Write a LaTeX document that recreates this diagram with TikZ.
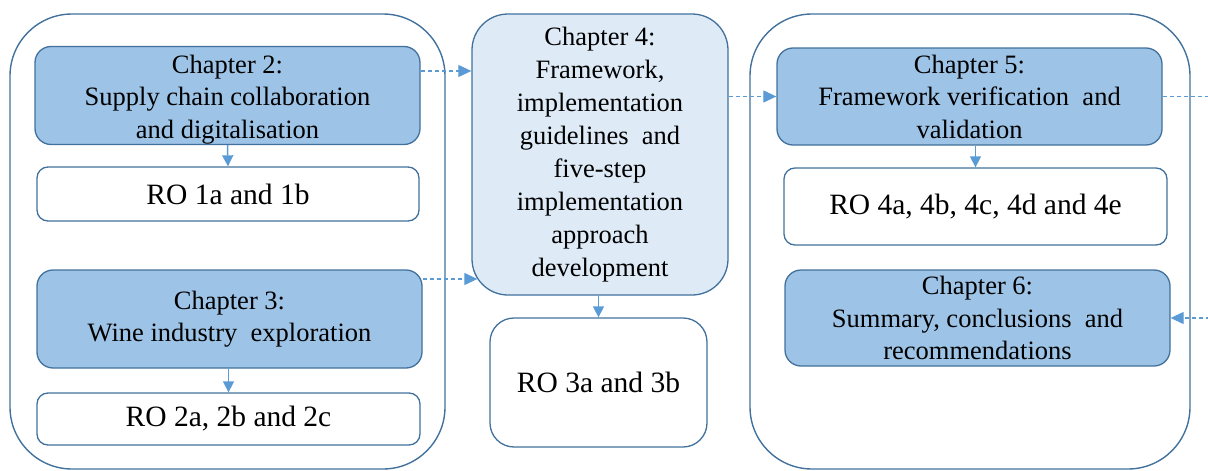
\documentclass[tikz,border=0pt]{standalone}
\usepackage{fontspec}
\setmainfont{Liberation Serif}
\usetikzlibrary{arrows.meta,calc}

\definecolor{edgeblue}{RGB}{65,113,156}
\definecolor{chapfill}{RGB}{157,195,230}
\definecolor{corefill}{RGB}{222,235,247}
\definecolor{arrowblue}{RGB}{91,155,213}

\tikzset{
  container/.style={draw=edgeblue, line width=1.4pt, rounded corners=62pt},
  chapbox/.style={draw=edgeblue, fill=chapfill, line width=1.3pt, rounded corners=16pt,
    inner sep=0pt, align=center, font=\fontsize{26.5}{32.5}\selectfont},
  corebox/.style={draw=edgeblue, fill=corefill, line width=1.3pt, rounded corners=36pt,
    inner sep=0pt, align=center, font=\fontsize{26.5}{33}\selectfont},
  robox/.style={draw=edgeblue, fill=white, line width=1.3pt, rounded corners=11pt,
    inner sep=0pt, align=center, font=\fontsize{29.5}{34}\selectfont},
  flowdown/.style={draw=arrowblue, line width=1.5pt, -{Triangle[length=11pt,width=11pt]}},
  flowlink/.style={draw=arrowblue, line width=1.2pt, dash pattern=on 4pt off 3pt,
    -{Triangle[length=13pt,width=12pt]}}
}

\begin{document}
\begin{tikzpicture}[x=1pt,y=-1pt]
  \useasboundingbox (0,0) rectangle (1208,471);
  \clip (0,0) rectangle (1208,471);

  % outer groups
  \draw[container] (10,14) rectangle (445,469);
  \draw[container] (750,14) rectangle (1190,469);

  % left group
  \node[chapbox, minimum width=385pt, minimum height=98pt] (ch2) at (227.5,95.5)
    {\rule{0pt}{26pt}Chapter 2:\\Supply chain collaboration\\and digitalisation};
  \node[robox, minimum width=382pt, minimum height=54pt] (ro1) at (228,194)
    {RO 1a and 1b};
  \node[chapbox, minimum width=385pt, minimum height=98pt] (ch3) at (229.5,319)
    {Chapter 3:\\Wine industry\ \ exploration};
  \node[robox, minimum width=383pt, minimum height=52pt] (ro2) at (228.5,419)
    {RO 2a, 2b and 2c};

  % middle column
  \node[corebox, minimum width=256pt, minimum height=281pt] (ch4) at (600,154.5)
    {Chapter 4:\\Framework,\\implementation\\guidelines\ \ and\\five-step\\implementation\\approach\\development};
  \node[robox, rounded corners=24pt, minimum width=217pt, minimum height=129pt] (ro3) at (598.5,382.5)
    {RO 3a and 3b};

  % right group
  \node[chapbox, minimum width=385pt, minimum height=97pt] (ch5) at (969.5,96.5)
    {Chapter 5:\\Framework verification\ \ and\\validation};
  \node[robox, minimum width=383pt, minimum height=77pt] (ro4) at (975.5,206.5)
    {RO 4a, 4b, 4c, 4d and 4e};
  \node[chapbox, minimum width=385pt, minimum height=96pt] (ch6) at (977.5,318)
    {Chapter 6:\\Summary, conclusions\ \ and\\recommendations};

  % objectives under each chapter
  \draw[flowdown] (ch2.south) -- (ro1.north);
  \draw[flowdown] (ro2.north |- ch3.south) -- (ro2.north);
  \draw[flowdown] (ro3.north |- ch4.south) -- (ro3.north);
  \draw[flowdown] (ro4.north |- ch5.south) -- (ro4.north);

  % links between chapters
  \draw[flowlink] ([yshift=24.5pt]ch2.east) -- ([yshift=24.5pt]ch2.east -| ch4.west);
  \draw[flowlink] ([yshift=40pt]ch3.east) -- ([yshift=40pt,xshift=6pt]ch3.east -| ch4.west);
  \draw[flowlink] (ch5.west -| ch4.east) -- (ch5.west);
  \coordinate (turn) at (1240,96.5);
  \draw[flowlink] (ch5.east) -- (ch5.east -| turn) |- (ch6.east);
\end{tikzpicture}
\end{document}
